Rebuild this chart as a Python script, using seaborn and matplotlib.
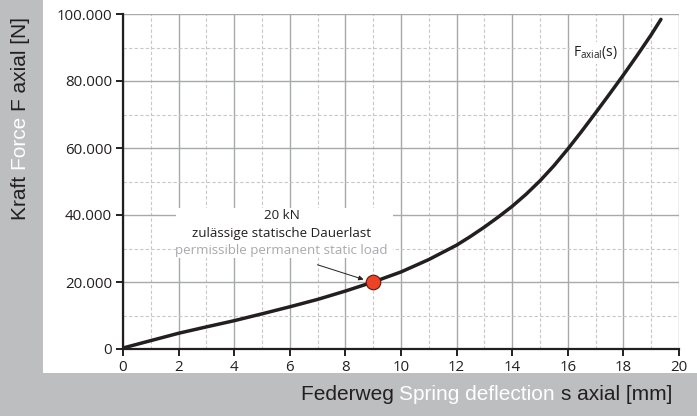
import matplotlib
matplotlib.use("Agg")
import matplotlib.pyplot as plt
import matplotlib.ticker as mticker
from matplotlib.patches import Rectangle
import seaborn as sns
import pandas as pd

# spring curve
deflection_mm = [0, 1, 2, 3, 4, 5, 6, 7, 8, 9, 10, 11, 12, 12.5, 13, 13.5, 14, 14.5, 15,
                 15.5, 16, 16.5, 17, 17.5, 18, 18.5, 19, 19.35]
force_n = [300, 2500, 4700, 6600, 8450, 10500, 12600, 14800, 17300, 20000, 23000, 26700,
           31000, 33600, 36400, 39400, 42600, 46200, 50200, 54700, 59700, 65000, 70500,
           76100, 81800, 87700, 93800, 98400]
load_point = (9, 20000)
x_ticks = list(range(0, 21, 2))
y_ticks = [0, 20000, 40000, 60000, 80000, 100000]

dark = "#231f20"
bg_grey = "#bcbec0"

df = pd.DataFrame({"s": deflection_mm, "F": force_n})

sns.set_theme(style="white")
plt.rcParams["font.family"] = ["Open Sans", "DejaVu Sans"]
plt.rcParams["mathtext.fontset"] = "custom"
plt.rcParams["mathtext.rm"] = "Open Sans"

fig = plt.figure(figsize=(6.97, 4.16), dpi=100, facecolor=bg_grey)
fig.patches.append(Rectangle((43 / 697, 43 / 416), 1 - 43 / 697, 1 - 43 / 416,
                             transform=fig.transFigure, facecolor="white", edgecolor="none", zorder=-5))
ax = fig.add_axes([123 / 697, 67 / 416, 556 / 697, 335 / 416])
ax.set_zorder(2)
ax.set_facecolor("none")

sns.lineplot(data=df, x="s", y="F", ax=ax, color=dark, linewidth=2.5, zorder=5)
sns.scatterplot(x=[load_point[0]], y=[load_point[1]], ax=ax, s=110, color="#ee4224",
                edgecolor="#5a1a10", linewidth=0.8, zorder=7)

ax.set_xlim(0, 20)
ax.set_ylim(0, 100000)
ax.set_xticks(x_ticks)
ax.set_yticks(y_ticks)
ax.xaxis.set_minor_locator(mticker.MultipleLocator(1))
ax.yaxis.set_minor_locator(mticker.MultipleLocator(10000))
ax.yaxis.set_major_formatter(mticker.FuncFormatter(lambda v, p: f"{int(v):,}".replace(",", ".")))
ax.grid(which="major", color="#a7a9ac", linewidth=1.0, linestyle="-")
ax.grid(which="minor", color="#c8c8c8", linewidth=0.8, linestyle=(0, (3, 2)))
ax.set_axisbelow(True)
for side in ["top", "right"]:
    ax.spines[side].set_visible(False)
for side in ["left", "bottom"]:
    ax.spines[side].set_color(dark)
    ax.spines[side].set_linewidth(1.6)
    ax.spines[side].set_zorder(6)
ax.tick_params(which="major", direction="out", length=5, width=1.4, color=dark,
               labelsize=10.8, labelcolor=dark, pad=3)
ax.tick_params(which="major", left=True, bottom=True)
ax.tick_params(which="minor", length=0)
ax.set_xlabel("")
ax.set_ylabel("")

# curve label
ax.text(17.0, 88400, r"F$_{\mathregular{axial}}$(s)", ha="center", va="center", fontsize=10,
        color=dark, zorder=4, bbox=dict(facecolor="white", edgecolor="none", pad=2))

# annotation for permissible load, white box hides the grid behind it
ax.add_patch(Rectangle((1.9, 27300), 7.8, 14800, facecolor="white", edgecolor="none", zorder=3))
lines = ["20 kN", "zulässige statische Dauerlast", "permissible permanent static load"]
ax.text(5.7, 39800, lines[0], ha="center", va="center", fontsize=9.6, color=dark, zorder=5)
ax.text(5.7, 34500, lines[1], ha="center", va="center", fontsize=9.6, color=dark, zorder=5)
ax.text(5.7, 29400, lines[2], ha="center", va="center", fontsize=9.6, color="#a7a9ac", zorder=5)
ax.annotate("", xy=(8.75, 20500), xytext=(6.9, 25400),
            arrowprops=dict(arrowstyle="-|>", color=dark, lw=0.7, mutation_scale=7), zorder=6)

# multicoloured axis labels
label_font = dict(family=["Liberation Sans", "DejaVu Sans"], fontsize=15)
renderer = fig.canvas.get_renderer()

x_parts = [("Federweg ", dark), ("Spring deflection ", "white"), ("s axial [mm]", dark)]
x_right = 672 / 697
for text, col in reversed(x_parts):
    t = fig.text(x_right, 21 / 416, text, ha="right", va="center", color=col, **label_font)
    bb = t.get_window_extent(renderer).transformed(fig.transFigure.inverted())
    x_right = bb.x0

y_parts = [("Kraft ", dark), ("Force ", "white"), ("F axial [N]", dark)]
y_bottom = (416 - 220) / 416
for text, col in y_parts:
    t = fig.text(21 / 697, y_bottom, text, rotation=90, ha="center", va="bottom", color=col, **label_font)
    bb = t.get_window_extent(renderer).transformed(fig.transFigure.inverted())
    y_bottom = bb.y1

fig.savefig("out.png", dpi=100, facecolor=bg_grey)
plt.close(fig)
